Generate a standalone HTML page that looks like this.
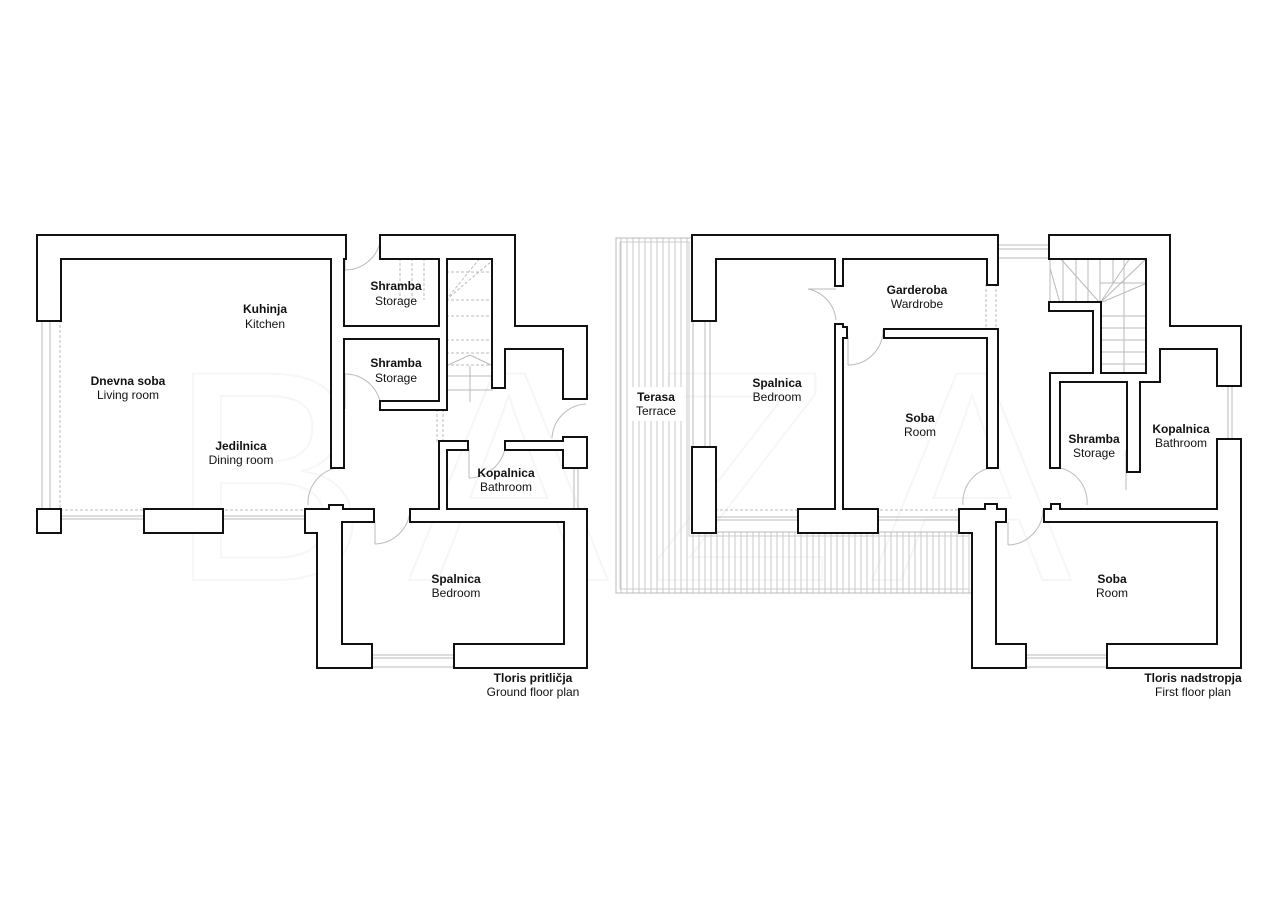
<!DOCTYPE html>
<html><head><meta charset="utf-8"><style>
html,body{margin:0;padding:0;background:#fff;}
svg{display:block;}
text{font-family:"Liberation Sans",sans-serif;font-size:12px;fill:#111;text-anchor:middle;}
.b{font-weight:bold;}
</style></head><body>
<svg width="1280" height="904" viewBox="0 0 1280 904" xmlns="http://www.w3.org/2000/svg">
<rect width="1280" height="904" fill="#fff"/>
<!-- watermark -->
<text x="640" y="580" style="font-size:300px;fill:none;stroke:#f6f6f6;stroke-width:2;letter-spacing:40px">BAZA</text>

<!-- terrace -->
<defs><pattern id="hatch" width="6" height="10" patternUnits="userSpaceOnUse"><line x1="3" y1="0" x2="3" y2="10" stroke="#c8c8c8" stroke-width="1"/></pattern></defs>
<path d="M616,238 H693 V532 H973 V593 H616 Z" fill="url(#hatch)" stroke="#bbb" stroke-width="1"/>
<path d="M620,242 H689 V536 H969 V589 H620 Z" fill="none" stroke="#ccc" stroke-width="1"/>
<rect x="628" y="387" width="56" height="34" fill="#fff"/>

<g stroke="#bbb" stroke-width="1" fill="none">
 <line x1="42" y1="320" x2="42" y2="510"/><line x1="50" y1="320" x2="50" y2="510"/><line x1="60" y1="320" x2="60" y2="510" stroke-dasharray="3,2"/>
 <line x1="60" y1="516" x2="145" y2="516"/><line x1="60" y1="519" x2="145" y2="519"/>
 <line x1="222" y1="516" x2="305" y2="516"/><line x1="222" y1="519" x2="305" y2="519"/>
 <line x1="60" y1="510" x2="332" y2="510" stroke-dasharray="3,2"/>
 <line x1="371" y1="655" x2="455" y2="655"/><line x1="371" y1="658" x2="455" y2="658"/><line x1="371" y1="667" x2="455" y2="667"/>
 <line x1="574" y1="467" x2="574" y2="510"/><line x1="578" y1="467" x2="578" y2="510"/>
 <g stroke-dasharray="3,2"><line x1="446" y1="272" x2="493" y2="272"/><line x1="446" y1="300" x2="493" y2="300"/><line x1="446" y1="316" x2="493" y2="316"/><line x1="446" y1="340" x2="493" y2="340"/><line x1="446" y1="353" x2="493" y2="353"/><line x1="446" y1="365" x2="493" y2="365"/>
 <line x1="400" y1="258" x2="400" y2="300"/><line x1="412" y1="258" x2="412" y2="300"/><line x1="424" y1="258" x2="424" y2="300"/><line x1="446" y1="300" x2="493" y2="260"/><line x1="446" y1="300" x2="480" y2="258"/>
 <line x1="443" y1="409" x2="443" y2="442"/><line x1="437" y1="409" x2="437" y2="442"/></g>
 <line x1="446" y1="366" x2="470" y2="355"/><line x1="470" y1="355" x2="493" y2="366"/><line x1="446" y1="376" x2="493" y2="376"/><line x1="446" y1="390" x2="493" y2="390"/><line x1="470" y1="366" x2="470" y2="402"/>
 <path d="M345,270 A36,36 0 0 0 381,236"/><line x1="345" y1="270" x2="345" y2="258"/>
 <path d="M345,374 A36,36 0 0 1 381,409"/><line x1="345" y1="374" x2="345" y2="409"/>
 <path d="M308,505 A36,36 0 0 1 343,467"/>
 <path d="M375,544 A36,36 0 0 0 410,510"/><line x1="375" y1="544" x2="375" y2="521"/>
 <path d="M469,478 A38,38 0 0 0 505,449"/><line x1="469" y1="478" x2="469" y2="449"/>
 <path d="M552,438 A36,36 0 0 1 586,404"/>
 <line x1="705" y1="320" x2="705" y2="448"/><line x1="710" y1="320" x2="710" y2="448"/>
 <line x1="715" y1="510" x2="960" y2="510" stroke-dasharray="3,2"/>
 <line x1="715" y1="517" x2="799" y2="517"/><line x1="715" y1="520" x2="799" y2="520"/>
 <line x1="877" y1="517" x2="960" y2="517"/><line x1="877" y1="520" x2="960" y2="520"/>
 <line x1="997" y1="245" x2="1050" y2="245"/><line x1="997" y1="249" x2="1050" y2="249"/><line x1="997" y1="258" x2="1050" y2="258"/>
 <line x1="986" y1="284" x2="986" y2="330" stroke-dasharray="3,2"/><line x1="996" y1="284" x2="996" y2="330" stroke-dasharray="3,2"/>
 <line x1="1025" y1="655" x2="1108" y2="655"/><line x1="1025" y1="658" x2="1108" y2="658"/><line x1="1025" y1="667" x2="1108" y2="667"/>
 <line x1="1228" y1="385" x2="1228" y2="440"/><line x1="1232" y1="385" x2="1232" y2="440"/>
 <line x1="1126" y1="450" x2="1126" y2="490"/>
 <line x1="1050" y1="258" x2="1050" y2="303"/>
 <line x1="1063" y1="258" x2="1063" y2="303"/><line x1="1076" y1="258" x2="1076" y2="303"/><line x1="1088" y1="258" x2="1088" y2="303"/><line x1="1100" y1="258" x2="1100" y2="303"/><line x1="1113" y1="258" x2="1113" y2="283"/><line x1="1124" y1="258" x2="1124" y2="283"/>
 <line x1="1100" y1="283" x2="1147" y2="283"/><line x1="1124" y1="283" x2="1124" y2="374"/>
 <line x1="1100" y1="303" x2="1147" y2="258"/><line x1="1100" y1="303" x2="1130" y2="258"/><line x1="1100" y1="303" x2="1147" y2="283"/><line x1="1100" y1="303" x2="1060" y2="258"/><line x1="1060" y1="303" x2="1050" y2="268"/>
 <line x1="1100" y1="316" x2="1147" y2="316"/><line x1="1100" y1="328" x2="1147" y2="328"/><line x1="1100" y1="340" x2="1147" y2="340"/><line x1="1100" y1="352" x2="1147" y2="352"/><line x1="1100" y1="364" x2="1147" y2="364"/>
 <path d="M808,289 A35,35 0 0 1 836,320"/><line x1="808" y1="289" x2="836" y2="289"/>
 <path d="M848,365 A35,35 0 0 0 883,330"/><line x1="848" y1="365" x2="848" y2="337"/>
 <path d="M963,505 A35,35 0 0 1 997,467"/>
 <path d="M1087,505 A35,35 0 0 0 1053,467"/>
 <path d="M1008,545 A36,36 0 0 0 1043,510"/><line x1="1008" y1="545" x2="1008" y2="522"/>
</g>

<g id="walls" fill="#111" stroke="#111" stroke-width="4">
<rect x="38" y="236" width="307" height="22"/><rect x="38" y="236" width="22" height="84"/><rect x="38" y="510" width="22" height="22"/>
<rect x="145" y="510" width="77" height="22"/>
<rect x="332" y="236" width="11" height="231"/>
<rect x="381" y="236" width="133" height="22"/><rect x="493" y="236" width="21" height="91"/><rect x="493" y="327" width="93" height="21"/><rect x="564" y="327" width="22" height="71"/><rect x="493" y="348" width="11" height="39"/>
<rect x="440" y="258" width="6" height="151"/><rect x="343" y="327" width="97" height="11"/><rect x="381" y="402" width="65" height="7"/>
<rect x="440" y="442" width="27" height="7"/><rect x="506" y="442" width="59" height="7"/><rect x="564" y="438" width="22" height="29"/><rect x="440" y="442" width="6" height="68"/>
<rect x="411" y="510" width="175" height="11"/><rect x="565" y="510" width="21" height="157"/><rect x="455" y="645" width="131" height="22"/><rect x="318" y="645" width="53" height="22"/>
<rect x="318" y="510" width="23" height="157"/><rect x="306" y="510" width="67" height="11"/><rect x="306" y="510" width="12" height="22"/><rect x="330" y="506" width="12" height="5"/>
<rect x="693" y="236" width="304" height="22"/><rect x="693" y="236" width="22" height="84"/><rect x="693" y="448" width="22" height="84"/>
<rect x="836" y="258" width="6" height="27"/><rect x="836" y="325" width="6" height="185"/><rect x="842" y="328" width="4" height="9"/><rect x="799" y="510" width="78" height="22"/>
<rect x="885" y="330" width="112" height="7"/><rect x="988" y="330" width="9" height="137"/><rect x="988" y="258" width="9" height="26"/>
<rect x="1050" y="236" width="119" height="22"/><rect x="1147" y="236" width="22" height="91"/><rect x="1147" y="327" width="93" height="21"/><rect x="1218" y="327" width="22" height="58"/><rect x="1147" y="348" width="12" height="33"/>
<rect x="1051" y="374" width="108" height="7"/><rect x="1050" y="303" width="44" height="7"/><rect x="1094" y="303" width="6" height="72"/>
<rect x="1051" y="374" width="8" height="93"/><rect x="1128" y="374" width="11" height="97"/>
<rect x="1045" y="510" width="195" height="11"/><rect x="1218" y="440" width="22" height="227"/><rect x="1108" y="645" width="132" height="22"/><rect x="973" y="645" width="52" height="22"/>
<rect x="973" y="510" width="22" height="157"/><rect x="960" y="510" width="45" height="11"/><rect x="960" y="510" width="13" height="22"/><rect x="986" y="505" width="10" height="5"/><rect x="1052" y="505" width="7" height="5"/>
</g>
<g fill="#fff">
<rect x="38" y="236" width="307" height="22"/><rect x="38" y="236" width="22" height="84"/><rect x="38" y="510" width="22" height="22"/>
<rect x="145" y="510" width="77" height="22"/>
<rect x="332" y="236" width="11" height="231"/>
<rect x="381" y="236" width="133" height="22"/><rect x="493" y="236" width="21" height="91"/><rect x="493" y="327" width="93" height="21"/><rect x="564" y="327" width="22" height="71"/><rect x="493" y="348" width="11" height="39"/>
<rect x="440" y="258" width="6" height="151"/><rect x="343" y="327" width="97" height="11"/><rect x="381" y="402" width="65" height="7"/>
<rect x="440" y="442" width="27" height="7"/><rect x="506" y="442" width="59" height="7"/><rect x="564" y="438" width="22" height="29"/><rect x="440" y="442" width="6" height="68"/>
<rect x="411" y="510" width="175" height="11"/><rect x="565" y="510" width="21" height="157"/><rect x="455" y="645" width="131" height="22"/><rect x="318" y="645" width="53" height="22"/>
<rect x="318" y="510" width="23" height="157"/><rect x="306" y="510" width="67" height="11"/><rect x="306" y="510" width="12" height="22"/><rect x="330" y="506" width="12" height="5"/>
<rect x="693" y="236" width="304" height="22"/><rect x="693" y="236" width="22" height="84"/><rect x="693" y="448" width="22" height="84"/>
<rect x="836" y="258" width="6" height="27"/><rect x="836" y="325" width="6" height="185"/><rect x="842" y="328" width="4" height="9"/><rect x="799" y="510" width="78" height="22"/>
<rect x="885" y="330" width="112" height="7"/><rect x="988" y="330" width="9" height="137"/><rect x="988" y="258" width="9" height="26"/>
<rect x="1050" y="236" width="119" height="22"/><rect x="1147" y="236" width="22" height="91"/><rect x="1147" y="327" width="93" height="21"/><rect x="1218" y="327" width="22" height="58"/><rect x="1147" y="348" width="12" height="33"/>
<rect x="1051" y="374" width="108" height="7"/><rect x="1050" y="303" width="44" height="7"/><rect x="1094" y="303" width="6" height="72"/>
<rect x="1051" y="374" width="8" height="93"/><rect x="1128" y="374" width="11" height="97"/>
<rect x="1045" y="510" width="195" height="11"/><rect x="1218" y="440" width="22" height="227"/><rect x="1108" y="645" width="132" height="22"/><rect x="973" y="645" width="52" height="22"/>
<rect x="973" y="510" width="22" height="157"/><rect x="960" y="510" width="45" height="11"/><rect x="960" y="510" width="13" height="22"/><rect x="986" y="505" width="10" height="5"/><rect x="1052" y="505" width="7" height="5"/>
</g>

<text class="b" x="396" y="290">Shramba</text><text x="396" y="305">Storage</text>
<text class="b" x="265" y="313">Kuhinja</text><text x="265" y="328">Kitchen</text>
<text class="b" x="128" y="385">Dnevna soba</text><text x="128" y="399">Living room</text>
<text class="b" x="241" y="450">Jedilnica</text><text x="241" y="464">Dining room</text>
<text class="b" x="396" y="367">Shramba</text><text x="396" y="382">Storage</text>
<text class="b" x="506" y="477">Kopalnica</text><text x="506" y="491">Bathroom</text>
<text class="b" x="456" y="583">Spalnica</text><text x="456" y="597">Bedroom</text>
<text class="b" x="533" y="682">Tloris pritličja</text><text x="533" y="696">Ground floor plan</text>
<text class="b" x="656" y="401">Terasa</text><text x="656" y="415">Terrace</text>
<text class="b" x="777" y="387">Spalnica</text><text x="777" y="401">Bedroom</text>
<text class="b" x="917" y="294">Garderoba</text><text x="917" y="308">Wardrobe</text>
<text class="b" x="920" y="422">Soba</text><text x="920" y="436">Room</text>
<text class="b" x="1094" y="443">Shramba</text><text x="1094" y="457">Storage</text>
<text class="b" x="1181" y="433">Kopalnica</text><text x="1181" y="447">Bathroom</text>
<text class="b" x="1112" y="583">Soba</text><text x="1112" y="597">Room</text>
<text class="b" x="1193" y="682">Tloris nadstropja</text><text x="1193" y="696">First floor plan</text>
</svg>
</body></html>
